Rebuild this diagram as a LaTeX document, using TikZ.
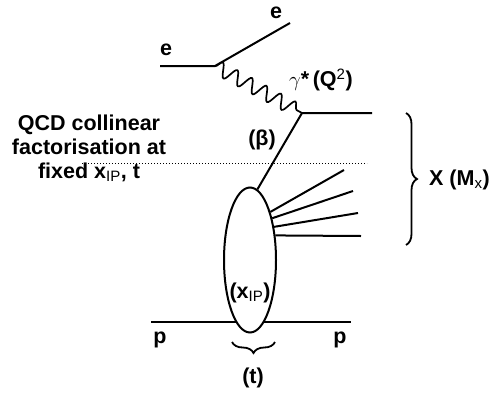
\documentclass[tikz,border=0pt]{standalone}
\usepackage{fontspec}
\setmainfont{Liberation Sans}
\usetikzlibrary{shapes.geometric,decorations.pathmorphing,decorations.pathreplacing}
\tikzset{
  dis line/.style={draw=black, line width=2pt},
  dis photon/.style={draw=black, line width=1.7pt, decorate,
    decoration={snake, segment length=16.5pt, amplitude=7pt}},
  dis guide/.style={draw=black, line width=1pt, dotted},
  dis brace/.style={draw=black, line width=1.8pt, decorate},
  dis blob/.style={ellipse, draw=black, fill=white, line width=2pt,
    minimum width=52pt, minimum height=145pt, inner sep=0pt},
  dis label/.style={font=\fontsize{21.5}{24}\selectfont\bfseries, text=black, inner sep=1pt},
}

\begin{document}
\begin{tikzpicture}[x=1pt, y=-1pt]
  \useasboundingbox (0,0) rectangle (493,394);

  % lepton vertex
  \coordinate (ein)  at (160,66);
  \coordinate (evtx) at (215,66);
  \coordinate (eout) at (290,23);
  \coordinate (qvtx) at (302,113);
  \coordinate (qout) at (372,113);
  \node[dis label] (elin)  at (166,50) {e};
  \node[dis label] (elout) at (276,13) {e};
  \node[dis label, anchor=west] (gam) at (288,80) {$\gamma$*\,(Q\textsuperscript{\mdseries 2})};
  \draw[dis line] (ein) -- (evtx) -- (eout);
  \draw[dis photon] (evtx) -- (qvtx);

  % proton line behind the blob
  \coordinate (pin)  at (151,322);
  \coordinate (pout) at (351,322);
  \draw[dis line] (pin) -- (pout);
  \node[dis label] (plin)  at (160,340) {p};
  \node[dis label] (plout) at (340,340) {p};

  % pomeron blob
  \node[dis blob] (pom) at (250,260) {};
  \node[dis label] (xpom) at (250,293) {(x\textsubscript{\mdseries IP})};

  % factorisation scale
  \coordinate (gl) at (82,163);
  \coordinate (gr) at (367,163);
  \draw[dis guide] (gl) -- (gr);
  \node[dis label, align=center] (qcd) at (89,148)
    {QCD collinear\\factorisation at\\fixed x\textsubscript{\mdseries IP}, t};

  % struck parton and final state
  \draw[dis line] (pom.84) -- (qvtx) -- (qout);
  \node[dis label] (beta) at (262,140) {(β)};
  \coordinate (h1) at (344,170);
  \coordinate (h2) at (353,191);
  \coordinate (h3) at (358,213);
  \coordinate (h4) at (361,236);
  \draw[dis line] (pom.67) -- (h1);
  \draw[dis line] (pom.62) -- (h2);
  \draw[dis line] (pom.54) -- (h3);
  \draw[dis line] (pom.44) -- (h4);

  % system X
  \coordinate (bxt) at (406,113);
  \coordinate (bxb) at (406,245);
  \draw[dis brace, decoration={brace, amplitude=11pt}] (bxt) -- (bxb);
  \node[dis label, anchor=west] (xsys) at (428,180) {X (M\textsubscript{\mdseries x})};

  % momentum transfer
  \coordinate (btr) at (275,342);
  \coordinate (btl) at (232,342);
  \draw[dis brace, decoration={brace, amplitude=11pt}] (btr) -- (btl);
  \node[dis label] (tval) at (253,378) {(t)};
\end{tikzpicture}
\end{document}
